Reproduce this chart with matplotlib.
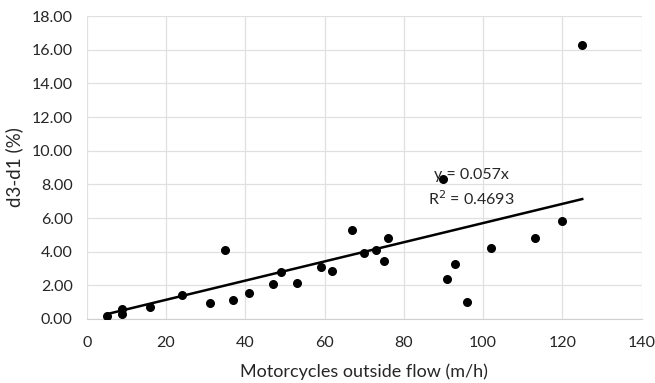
import matplotlib
matplotlib.use("Agg")
import matplotlib.pyplot as plt
import numpy as np

plt.rcParams['font.family'] = ['Lato', 'DejaVu Sans']

# Motorcycle flow outside the lane vs. d3-d1 difference
flow = [5, 9, 9, 16, 24, 31, 35, 37, 41, 47, 49, 53, 59, 62, 67, 70, 73, 75, 76,
        90, 91, 93, 96, 102, 113, 120, 125]
d3_d1 = [0.15, 0.6, 0.3, 0.7, 1.4, 0.95, 4.1, 1.15, 1.55, 2.05, 2.8, 2.15, 3.1, 2.85,
         5.3, 3.9, 4.1, 3.45, 4.8, 8.3, 2.4, 3.25, 1.0, 4.2, 4.8, 5.8, 16.25]
slope = 0.057
r_squared = 0.4693

x_ticks = [0, 20, 40, 60, 80, 100, 120, 140]
y_ticks = [0, 2, 4, 6, 8, 10, 12, 14, 16, 18]

fig = plt.figure(figsize=(6.55, 3.83), dpi=100)
ax = fig.add_axes([86.7 / 655, 1 - 319 / 383, (641.7 - 86.7) / 655, (319 - 16) / 383])

ax.set_xlim(0, 140)
ax.set_ylim(0, 18)
ax.set_xticks(x_ticks)
ax.set_yticks(y_ticks)
ax.set_yticklabels([f"{v:.2f}" for v in y_ticks])
ax.grid(True, color='#e0e0e0', linewidth=0.9)
ax.set_axisbelow(True)
for side in ['top', 'right', 'left']:
    ax.spines[side].set_visible(False)
ax.spines['bottom'].set_color('#d0d0d0')
ax.tick_params(length=0, labelsize=11.5, colors='#262626')
ax.tick_params(axis='x', pad=12)
ax.tick_params(axis='y', pad=10)

ax.scatter(flow, d3_d1, s=30, color='black', zorder=3)

xs = np.array([min(flow), max(flow)])
ax.plot(xs, slope * xs, color='black', linewidth=1.8, zorder=2)

ax.text(97, 8.55, f"y = {slope}x", ha='center', va='center', fontsize=11.5, color='#262626')
ax.text(97, 7.15, f"R$^2$ = {r_squared}", ha='center', va='center', fontsize=11.5, color='#262626')

ax.set_xlabel("Motorcycles outside flow (m/h)", fontsize=13, color='#262626', labelpad=10)
ax.set_ylabel("d3-d1 (%)", fontsize=13.5, color='#262626', labelpad=6)

fig.savefig("out.png", dpi=100)
